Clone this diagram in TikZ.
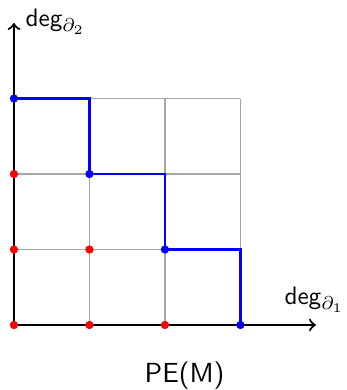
\documentclass[tikz,border=0pt]{standalone}
\usepackage{amsmath}
\begin{document}
\begin{tikzpicture}[x=1cm,y=1cm,
  font=\sffamily\fontsize{9.5}{11}\selectfont,
  gridline/.style={gray!70,line width=0.55pt},
  axisline/.style={black,line width=0.8pt,->},
  stairline/.style={blue,line width=0.9pt},
  reddot/.style={circle,fill=red,inner sep=0pt,minimum size=0.11cm},
  bluedot/.style={circle,fill=blue,inner sep=0pt,minimum size=0.11cm},
  lab/.style={inner sep=0pt}]
\useasboundingbox (-0.185,-0.861) rectangle (4.411,4.305);
\draw[gridline] (0,0) grid (3,3);
\coordinate (o) at (0,0);
\coordinate (xt) at (4,0);
\coordinate (yt) at (0,4);
\draw[axisline] (o) -- (xt);
\draw[axisline] (o) -- (yt);
\node[lab,anchor=base west] (ylab) at (0.147,3.95) {deg$_{\partial_2}$};
\node[lab,anchor=base] (xlab) at (3.98,0.265) {deg$_{\partial_1}$};
\node[lab,font=\sffamily\fontsize{10.4}{12}\selectfont] (pe) at (2.26,-0.675) {PE(M)};
\coordinate (s1) at (1,3);
\coordinate (s2) at (2,2);
\coordinate (s3) at (3,1);
\node[bluedot] (b0) at (0,3) {};
\node[bluedot] (b1) at (1,2) {};
\node[bluedot] (b2) at (2,1) {};
\node[bluedot] (b3) at (3,0) {};
\draw[stairline] (b0.center) -- (s1) -- (b1.center) -- (s2) -- (b2.center) -- (s3) -- (b3.center);
\foreach \p/\n in {{(0,0)}/r1,{(1,0)}/r2,{(2,0)}/r3,{(0,1)}/r4,{(0,2)}/r5,{(1,1)}/r6}
  \node[reddot] (\n) at \p {};
\end{tikzpicture}
\end{document}
